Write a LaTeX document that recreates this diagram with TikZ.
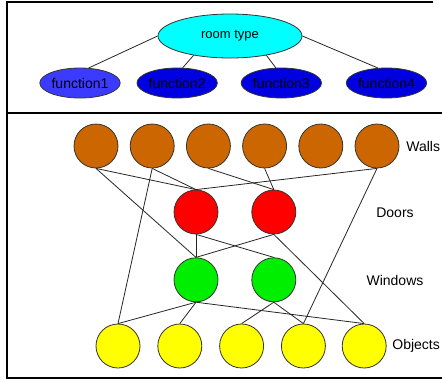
\documentclass[tikz,border=0pt]{standalone}
\usepackage{fontspec}
\setmainfont{Liberation Sans}
\usetikzlibrary{positioning, shapes.geometric}
\definecolor{roomc}{HTML}{00FFFF}
\definecolor{wallc}{HTML}{CC6600}
\definecolor{fnlight}{HTML}{3B3BFF}
\definecolor{fndark}{HTML}{0000E0}
\definecolor{doorc}{HTML}{FF0000}
\definecolor{winc}{HTML}{00EE00}
\definecolor{objc}{HTML}{FFFF00}
\newcommand{\layernode}[3]{\node[draw=black!80, circle, minimum size=44pt, inner sep=0pt, #3] (#1) {#2};}
\newcommand{\typenode}[3]{\node[draw=black!80, ellipse, inner sep=0pt, #3] (#1) {#2};}
\newcommand{\layeredge}[3]{\draw [black!85, #3] (#1) to (#2);}

\begin{document}
\begin{tikzpicture}[x=1pt, y=-1pt, line width=0.8pt, every node/.style={font=\fontsize{14}{16}\selectfont}]
\useasboundingbox (0,0) rectangle (442,381);

% frame round both parts
\draw[line width=1.3pt] (433,2) -- (7,2) -- (7,378) -- (442,378);
\draw[line width=1.3pt] (7,113) -- (442,113);

\typenode{room}{room type}{fill=roomc, minimum width=144pt, minimum height=44pt, font=\fontsize{13}{15}\selectfont, at={(230,36)}};
\typenode{f1}{function1}{fill=fnlight, minimum width=80pt, minimum height=30pt, at={(80,83)}};
\typenode{f2}{function2}{fill=fndark, minimum width=76pt, minimum height=30pt, right=16pt of f1};
\typenode{f3}{function3}{fill=fndark, minimum width=78pt, minimum height=30pt, right=23pt of f2};
\typenode{f4}{function4}{fill=fndark, minimum width=78pt, minimum height=30pt, right=24pt of f3};
\layeredge{room.west}{f1.60}{};
\layeredge{room.208}{f2.70}{};
\layeredge{room.332}{f3.110}{};
\layeredge{room.east}{f4.120}{};

\layernode{w1}{}{fill=wallc, at={(96,146)}};
\layernode{w2}{}{fill=wallc, right=11.4pt of w1};
\layernode{w3}{}{fill=wallc, right=11.4pt of w2};
\layernode{w4}{}{fill=wallc, right=11.4pt of w3};
\layernode{w5}{}{fill=wallc, right=11.4pt of w4};
\layernode{w6}{}{fill=wallc, right=11.4pt of w5};

\layernode{d1}{}{fill=doorc, at={(196,212)}};
\layernode{d2}{}{fill=doorc, right=33pt of d1};
\layernode{win1}{}{fill=winc, below=23pt of d1};
\layernode{win2}{}{fill=winc, below=23pt of d2};

\layernode{o1}{}{fill=objc, at={(118,346)}};
\layernode{o2}{}{fill=objc, right=17pt of o1};
\layernode{o3}{}{fill=objc, right=17pt of o2};
\layernode{o4}{}{fill=objc, right=17pt of o3};
\layernode{o5}{}{fill=objc, right=16pt of o4};

\node[anchor=west, inner sep=0pt] (wallstext) at (406,146) {Walls};
\node (doorstext) at (395,213) {Doors};
\node (windowstext) at (395,280) {Windows};
\node[anchor=west, inner sep=0pt] (objectstext) at (392,346) {Objects};

\layeredge{w1.south}{d1.north}{};
\layeredge{w1.south}{win1.north}{};
\layeredge{w2.south}{o1.north}{};
\layeredge{w2.south}{d1.north}{};
\layeredge{w3.south}{d2.north}{};
\layeredge{w4.south}{d2.north}{};
\layeredge{w6.south}{d1.north}{};
\layeredge{w6.south}{o4.north}{};

\layeredge{d1.south}{win1.north}{};
\layeredge{d1.south}{win2.north}{};
\layeredge{d2.south}{win1.north}{};
\layeredge{d2.south}{o5.north}{};

\layeredge{win1.south}{o1.north}{};
\layeredge{win1.south}{o2.north}{};
\layeredge{win1.south}{o5.north}{};
\layeredge{win2.south}{o3.north}{};
\layeredge{win2.south}{o4.north}{};
\end{tikzpicture}
\end{document}
